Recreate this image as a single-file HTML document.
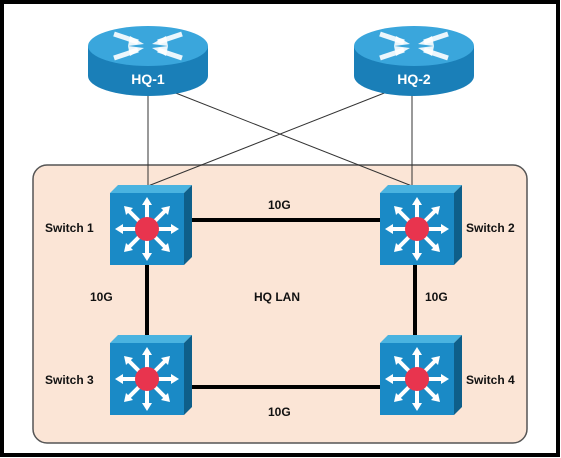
<!DOCTYPE html>
<html><head><style>body{margin:0;background:#fff}svg{display:block}text{font-family:"Liberation Sans",sans-serif;font-weight:bold}</style></head><body>
<svg width="561" height="458" viewBox="0 0 561 458" xmlns="http://www.w3.org/2000/svg">
<defs>
<g id="sw">
<polygon points="0,8 8,0 82,0 74,8" fill="#4ab3e0"/>
<polygon points="74,8 82,0 82,72 74,80" fill="#0e5f8a"/>
<rect x="0" y="8" width="74" height="72" fill="#1a8ac6"/>
<g stroke="#fff" stroke-width="4" fill="none">
<line x1="37" y1="44" x2="37" y2="16"/><line x1="37" y1="44" x2="37" y2="72"/>
<line x1="37" y1="44" x2="9" y2="44"/><line x1="37" y1="44" x2="65" y2="44"/>
<line x1="37" y1="44" x2="17" y2="24"/><line x1="37" y1="44" x2="57" y2="24"/>
<line x1="37" y1="44" x2="17" y2="64"/><line x1="37" y1="44" x2="57" y2="64"/>
</g>
<g fill="#fff">
<polygon points="37,12 32,20 42,20"/><polygon points="37,76 32,68 42,68"/>
<polygon points="5,44 13,39 13,49"/><polygon points="69,44 61,39 61,49"/>
<polygon points="14,21 23,23 16,30"/><polygon points="60,21 51,23 58,30"/>
<polygon points="14,67 23,65 16,58"/><polygon points="60,67 51,65 58,58"/>
</g>
<circle cx="37" cy="44" r="12" fill="#e8344e"/>
</g>
<g id="rt">
<path d="M0,22 L0,52 A60,20 0 0 0 120,52 L120,22 Z" fill="#1a7fb8"/>
<ellipse cx="60" cy="22" rx="60" ry="20" fill="#3aa6dc"/>
<g stroke="#fff" stroke-width="5" stroke-opacity="0.9">
<line x1="26" y1="10" x2="50" y2="18"/><line x1="94" y1="10" x2="70" y2="18"/>
<line x1="26" y1="34" x2="50" y2="26"/><line x1="94" y1="34" x2="70" y2="26"/>
</g>
<g fill="#fff" opacity="0.9">
<polygon points="56,20 42,12 40,22"/><polygon points="64,20 78,12 80,22"/>
<polygon points="56,24 42,32 40,22"/><polygon points="64,24 78,32 80,22"/>
</g>
</g>
</defs>
<rect x="2" y="2" width="556" height="453" fill="#fff" stroke="#000" stroke-width="4"/>
<rect x="33" y="165" width="494" height="278" rx="14" fill="#fbe5d6" stroke="#555" stroke-width="1.5"/>
<g stroke="#333" stroke-width="1">
<line x1="148" y1="90" x2="148" y2="186"/>
<line x1="168" y1="90" x2="412" y2="186"/>
<line x1="392" y1="90" x2="148" y2="186"/>
<line x1="412" y1="90" x2="412" y2="186"/>
</g>
<g stroke="#000" stroke-width="4">
<line x1="185" y1="220" x2="380" y2="220"/>
<line x1="185" y1="387" x2="380" y2="387"/>
<line x1="147" y1="265" x2="147" y2="336"/>
<line x1="415" y1="265" x2="415" y2="336"/>
</g>
<use href="#rt" x="88" y="24"/>
<use href="#rt" x="354" y="24"/>
<text x="148" y="84" fill="#fff" font-size="14" text-anchor="middle">HQ-1</text>
<text x="414" y="84" fill="#fff" font-size="14" text-anchor="middle">HQ-2</text>
<use href="#sw" x="110" y="185"/>
<use href="#sw" x="380" y="185"/>
<use href="#sw" x="110" y="335"/>
<use href="#sw" x="380" y="335"/>
<g font-size="12" fill="#111">
<text x="45" y="232">Switch 1</text>
<text x="466" y="232">Switch 2</text>
<text x="45" y="384">Switch 3</text>
<text x="466" y="384">Switch 4</text>
<text x="268" y="209">10G</text>
<text x="268" y="416">10G</text>
<text x="90" y="301">10G</text>
<text x="425" y="301">10G</text>
<text x="254" y="301">HQ LAN</text>
</g>
</svg>
</body></html>
